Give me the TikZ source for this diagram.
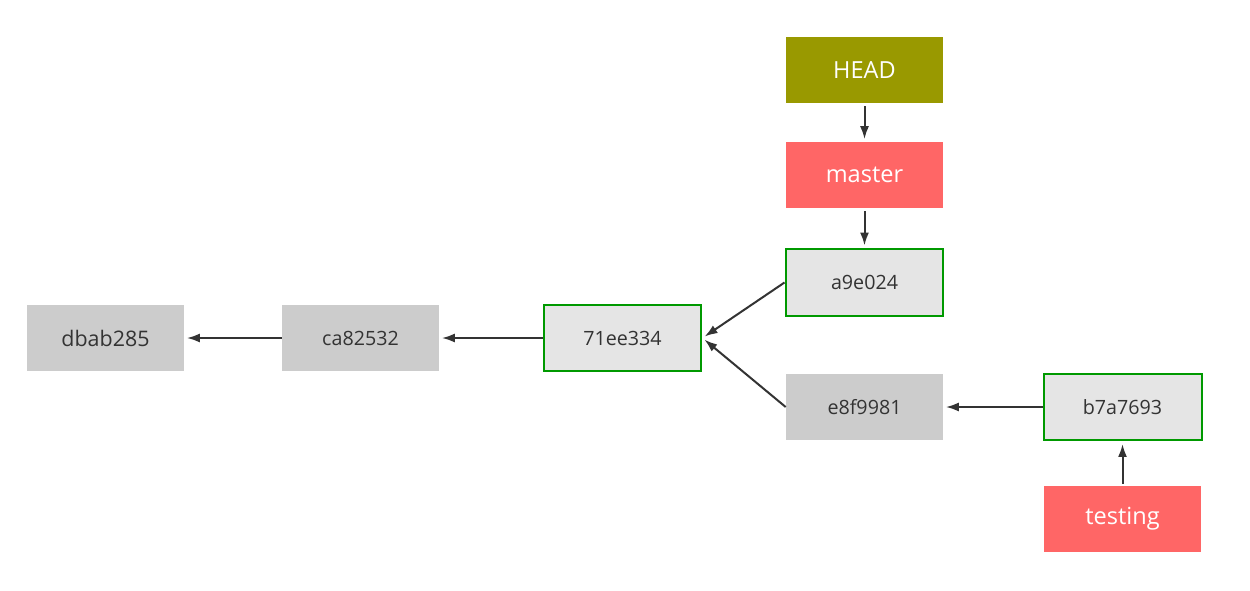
\documentclass[tikz,border=0pt]{standalone}
\usepackage{fontspec}
\setmainfont{Open Sans}
\usetikzlibrary{arrows.meta}
\definecolor{headcol}{HTML}{999900}
\definecolor{refcol}{HTML}{FF6666}
\definecolor{okgreen}{HTML}{009900}
\definecolor{lightfill}{HTML}{E5E5E5}
\definecolor{greyfill}{HTML}{CCCCCC}
\definecolor{inkcol}{HTML}{333333}
\tikzset{
  box/.style={rectangle, minimum width=3.14cm, minimum height=1.32cm, inner sep=0pt, text=inkcol, font=\fontsize{11.2}{13}\selectfont},
  commit/.style={box, fill=greyfill},
  current/.style={box, fill=lightfill, draw=okgreen, line width=0.04cm, minimum width=3.16cm, minimum height=1.34cm},
  pointer/.style={box, text=white, font=\fontsize{13.4}{16}\selectfont},
  link/.style={draw=inkcol, line width=0.04cm, -{Latex[length=0.26cm,width=0.18cm]}, shorten >=0.05cm}
}
\begin{document}
\begin{tikzpicture}[x=0.02cm,y=-0.02cm]
\useasboundingbox (0,0) rectangle (1250,591);
\node[pointer, fill=headcol] (head) at (864.5,70) {HEAD};
\node[pointer, fill=refcol] (master) at (864.5,175) {master};
\node[current] (a9e) at (864.5,282.5) {a9e024};
\node[current] (c71) at (622.5,338) {71ee334};
\node[commit] (ca8) at (360.5,338) {ca82532};
\node[commit, font=\fontsize{12.2}{14}\selectfont] (dba) at (105.5,338) {dbab285};
\node[commit] (e8f) at (864.5,407) {e8f9981};
\node[current] (b7a) at (1122.5,407) {b7a7693};
\node[pointer, fill=refcol] (testing) at (1122.5,519) {testing};
\draw[link, shorten <=0.06cm] (head) -- (master);
\draw[link, shorten <=0.06cm] (master) -- (a9e);
\draw[link] (a9e.west) -- (c71.east);
\draw[link] (e8f.west) -- (c71.east);
\draw[link] (c71) -- (ca8);
\draw[link] (ca8) -- (dba);
\draw[link] (b7a) -- (e8f);
\draw[link, shorten <=0.04cm] (testing) -- (b7a);
\end{tikzpicture}
\end{document}
